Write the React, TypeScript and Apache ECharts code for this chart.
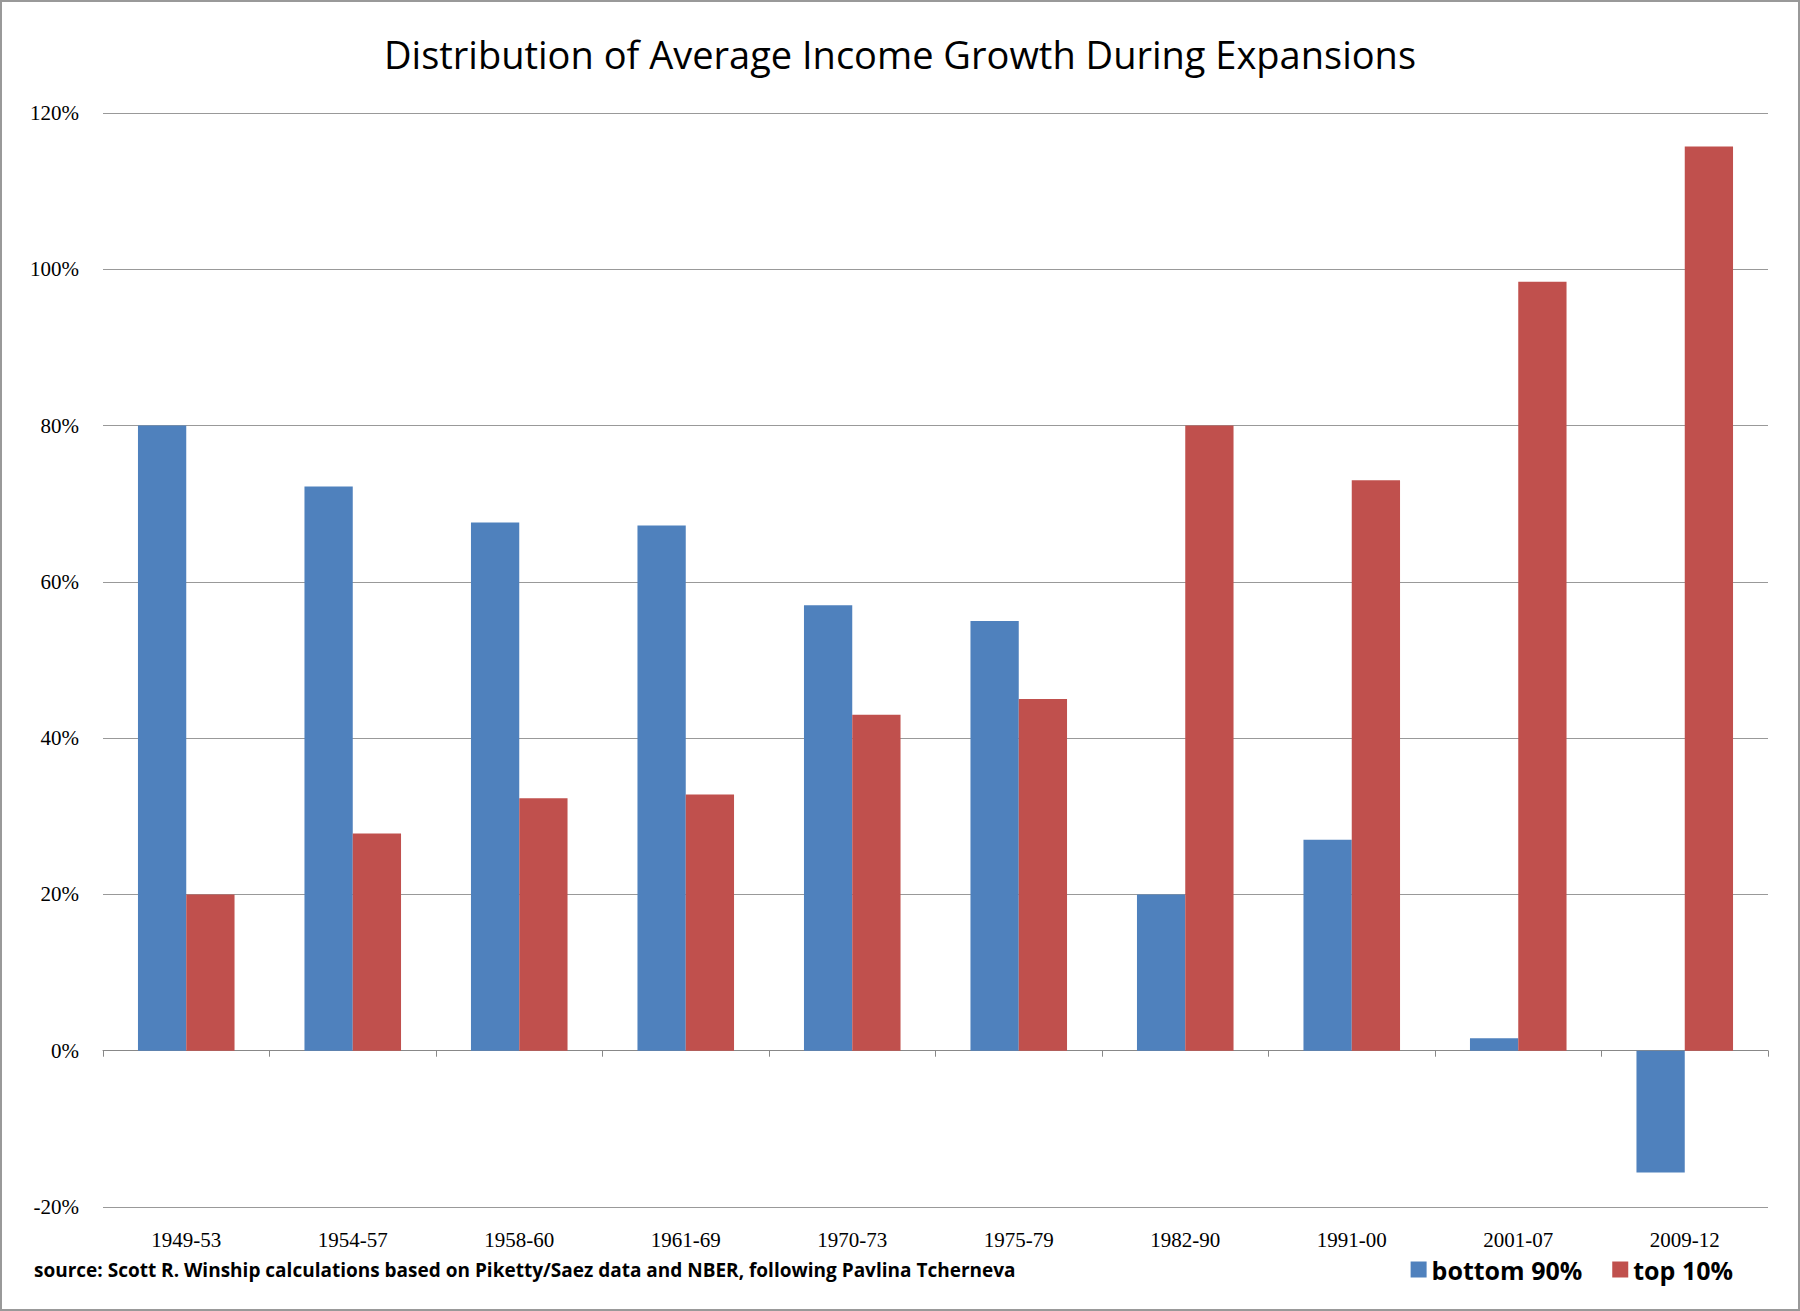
import React, { useEffect, useRef } from "react";
import * as echarts from "echarts";

const categories = ["1949-53", "1954-57", "1958-60", "1961-69", "1970-73", "1975-79", "1982-90", "1991-00", "2001-07", "2009-12"];
const bottom90 = [80, 72.2, 67.6, 67.2, 57, 55, 20, 27, 1.6, -15.6];
const top10 = [20, 27.8, 32.3, 32.8, 43, 45, 80, 73, 98.4, 115.7];

const App: React.FC = () => {
  const chartRef = useRef<HTMLDivElement>(null);

  useEffect(() => {
    if (!chartRef.current) return;
    const chart = echarts.init(chartRef.current, undefined, { renderer: "svg" });
    const option: echarts.EChartsOption = {
      animation: false,
      backgroundColor: "#fff",
      title: {
        text: "Distribution of Average Income Growth During Expansions",
        left: "center",
        top: 28,
        textStyle: { fontFamily: "Open Sans", fontSize: 38, fontWeight: "normal", color: "#000" }
      },
      legend: {
        right: 60,
        bottom: 22,
        itemWidth: 16,
        itemHeight: 16,
        itemGap: 30,
        icon: "rect",
        textStyle: { fontFamily: "Open Sans", fontSize: 25, fontWeight: "bold", color: "#000" },
        data: ["bottom 90%", "top 10%"]
      },
      graphic: [
        {
          type: "text",
          left: 32,
          top: 1258,
          style: {
            text: "source: Scott R. Winship calculations based on Piketty/Saez data and NBER, following Pavlina Tcherneva",
            font: "bold 19px 'Open Sans'",
            fill: "#000"
          }
        }
      ],
      grid: { left: 101, right: 30, top: 111, bottom: 102 },
      xAxis: {
        type: "category",
        data: categories,
        axisLine: { onZero: true, lineStyle: { color: "#888" } },
        axisTick: { show: true, length: 6, lineStyle: { color: "#888" } },
        axisLabel: { fontFamily: "Liberation Serif", fontSize: 21, color: "#000", margin: 22 }
      },
      yAxis: {
        type: "value",
        min: -20,
        max: 120,
        interval: 20,
        axisLine: { show: false },
        axisTick: { show: false },
        splitLine: { lineStyle: { color: "#999" } },
        axisLabel: { formatter: "{value}%", fontFamily: "Liberation Serif", fontSize: 21, color: "#000", margin: 24 }
      },
      series: [
        { name: "bottom 90%", type: "bar", data: bottom90, barWidth: "29%", barGap: "0%", itemStyle: { color: "#4F81BD" } },
        { name: "top 10%", type: "bar", data: top10, barWidth: "29%", barGap: "0%", itemStyle: { color: "#C0504D" } }
      ]
    };
    chart.setOption(option);
    return () => chart.dispose();
  }, []);

  return (
    <div style={{ position: "fixed", left: 0, top: 0, width: 1800, height: 1311, boxSizing: "border-box", border: "2px solid #999", background: "#fff" }}>
      <div ref={chartRef} style={{ width: "100%", height: "100%" }} />
    </div>
  );
};

export default App;
